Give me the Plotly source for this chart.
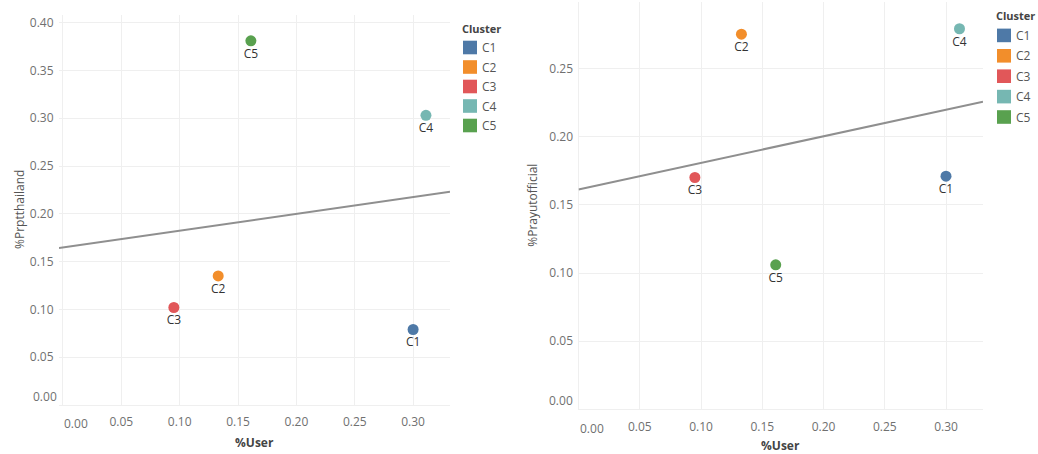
import numpy as np
import plotly.graph_objects as go

# Cluster shares (each column sums to ~1 across clusters)
clusters = ["C1", "C2", "C3", "C4", "C5"]
colors = ["#4E79A7", "#F28E2B", "#E15759", "#76B7B2", "#59A14F"]
pct_user = [0.300, 0.133, 0.095, 0.311, 0.161]
pct_prptthailand = [0.079, 0.135, 0.102, 0.303, 0.381]
pct_prayutofficial = [0.171, 0.275, 0.170, 0.279, 0.106]

tick_vals = [0.00, 0.05, 0.10, 0.15, 0.20, 0.25, 0.30, 0.35, 0.40]
tick_text = ["%.2f" % v for v in tick_vals]

W, H = 1038, 454
FONT = "Open Sans, Noto Sans, sans-serif"
TICK_COLOR = "#707070"
GRID = "#efefef"

# panel geometry in pixels: (left, right, top, bottom) and axis ranges
panels = [
    dict(y=pct_prptthailand, title="%Prptthailand", px=(59, 450, 15, 405),
         xr=[-0.0034, 0.3316], yr=[0, 0.408], xa="x", ya="y",
         ytitle_x=19, xtitle_y=442, legend_x=462, legend_y=28, legend_dy=19.5),
    dict(y=pct_prayutofficial, title="%Prayutofficial", px=(578.5, 983, 2, 409.5),
         xr=[0, 0.3302], yr=[0, 0.2986], xa="x2", ya="y2",
         ytitle_x=533, xtitle_y=445, legend_x=996, legend_y=15, legend_dy=20.4),
]

fig = go.Figure()
annotations = []
shapes = []

for i, p in enumerate(panels):
    l, r, t, b = p["px"]
    xa, ya = p["xa"], p["ya"]
    x_name = "xaxis" if xa == "x" else "xaxis2"
    y_name = "yaxis" if ya == "y" else "yaxis2"

    # trend line (least squares) spanning the visible x range
    slope, intercept = np.polyfit(pct_user, p["y"], 1)
    xs = np.array(p["xr"])
    fig.add_trace(go.Scatter(
        x=xs, y=slope * xs + intercept, mode="lines",
        line=dict(color="#8f8f8f", width=2), hoverinfo="skip",
        showlegend=False, xaxis=xa, yaxis=ya, cliponaxis=True))

    # cluster points with labels underneath
    for c, col, ux, vy in zip(clusters, colors, pct_user, p["y"]):
        fig.add_trace(go.Scatter(
            x=[ux], y=[vy], mode="markers+text", text=[c],
            textposition="bottom center",
            textfont=dict(family=FONT, size=12, color="#333333"),
            marker=dict(size=11, color=col),
            name=c, showlegend=False, xaxis=xa, yaxis=ya))

    xt = [v for v in tick_vals if v <= p["xr"][1]]
    yt = [v for v in tick_vals if v <= p["yr"][1]]
    axis_common = dict(showgrid=True, gridcolor=GRID, gridwidth=1,
                       zeroline=True, zerolinecolor=GRID, zerolinewidth=1,
                       showline=False,
                       tickfont=dict(family=FONT, size=12, color=TICK_COLOR),
                       ticks="outside", tickcolor="rgba(0,0,0,0)")
    fig.update_layout(**{
        x_name: dict(domain=[l / W, r / W], range=p["xr"], anchor=ya,
                     tickvals=xt[1:], ticktext=[tick_text[tick_vals.index(v)] for v in xt[1:]],
                     ticklen=6, **axis_common),
        y_name: dict(domain=[1 - b / H, 1 - t / H], range=p["yr"], anchor=xa,
                     tickvals=yt[1:], ticktext=[tick_text[tick_vals.index(v)] for v in yt[1:]],
                     ticklen=2, **axis_common),
    })

    # the zero labels sit nudged inward from the corner
    annotations.append(dict(x=0, y=0, xref=xa, yref=ya, text=tick_text[0],
                            showarrow=False, yanchor="top", xshift=13, yshift=-8,
                            font=dict(family=FONT, size=12, color=TICK_COLOR)))
    annotations.append(dict(x=0, y=0, xref=xa, yref=ya, text=tick_text[0],
                            showarrow=False, xanchor="right", xshift=-4, yshift=9,
                            font=dict(family=FONT, size=12, color=TICK_COLOR)))

    # axis titles
    annotations.append(dict(x=(l + r) / 2 / W, y=1 - p["xtitle_y"] / H,
                            xref="paper", yref="paper", text="<b>%User</b>",
                            showarrow=False, xanchor="center", yanchor="middle",
                            font=dict(family=FONT, size=12, color="#444444")))
    annotations.append(dict(x=p["ytitle_x"] / W, y=1 - (t + b) / 2 / H,
                            xref="paper", yref="paper", text=p["title"],
                            textangle=-90, showarrow=False,
                            xanchor="center", yanchor="middle",
                            font=dict(family=FONT, size=12, color="#555555")))

    # legend: title plus colour swatches
    lx, ly, dy = p["legend_x"], p["legend_y"], p["legend_dy"]
    annotations.append(dict(x=lx / W, y=1 - ly / H, xref="paper", yref="paper",
                            text="<b>Cluster</b>", showarrow=False,
                            xanchor="left", yanchor="middle", xshift=-2,
                            font=dict(family=FONT, size=11, color="#444444")))
    for k, (c, col) in enumerate(zip(clusters, colors)):
        cy = ly + dy * (k + 1)
        shapes.append(dict(type="rect", xref="paper", yref="paper",
                           x0=(lx + 1) / W, x1=(lx + 15) / W,
                           y0=1 - (cy + 6.8) / H, y1=1 - (cy - 6.8) / H,
                           fillcolor=col, line=dict(width=0)))
        annotations.append(dict(x=(lx + 18) / W, y=1 - cy / H, xref="paper",
                                yref="paper", text=c, showarrow=False,
                                xanchor="left", yanchor="middle",
                                font=dict(family=FONT, size=12, color="#555555")))

fig.update_layout(
    width=W, height=H, margin=dict(l=0, r=0, t=0, b=0),
    paper_bgcolor="white", plot_bgcolor="white",
    annotations=annotations, shapes=shapes, showlegend=False,
    font=dict(family=FONT),
)

fig.write_html("out.html")
